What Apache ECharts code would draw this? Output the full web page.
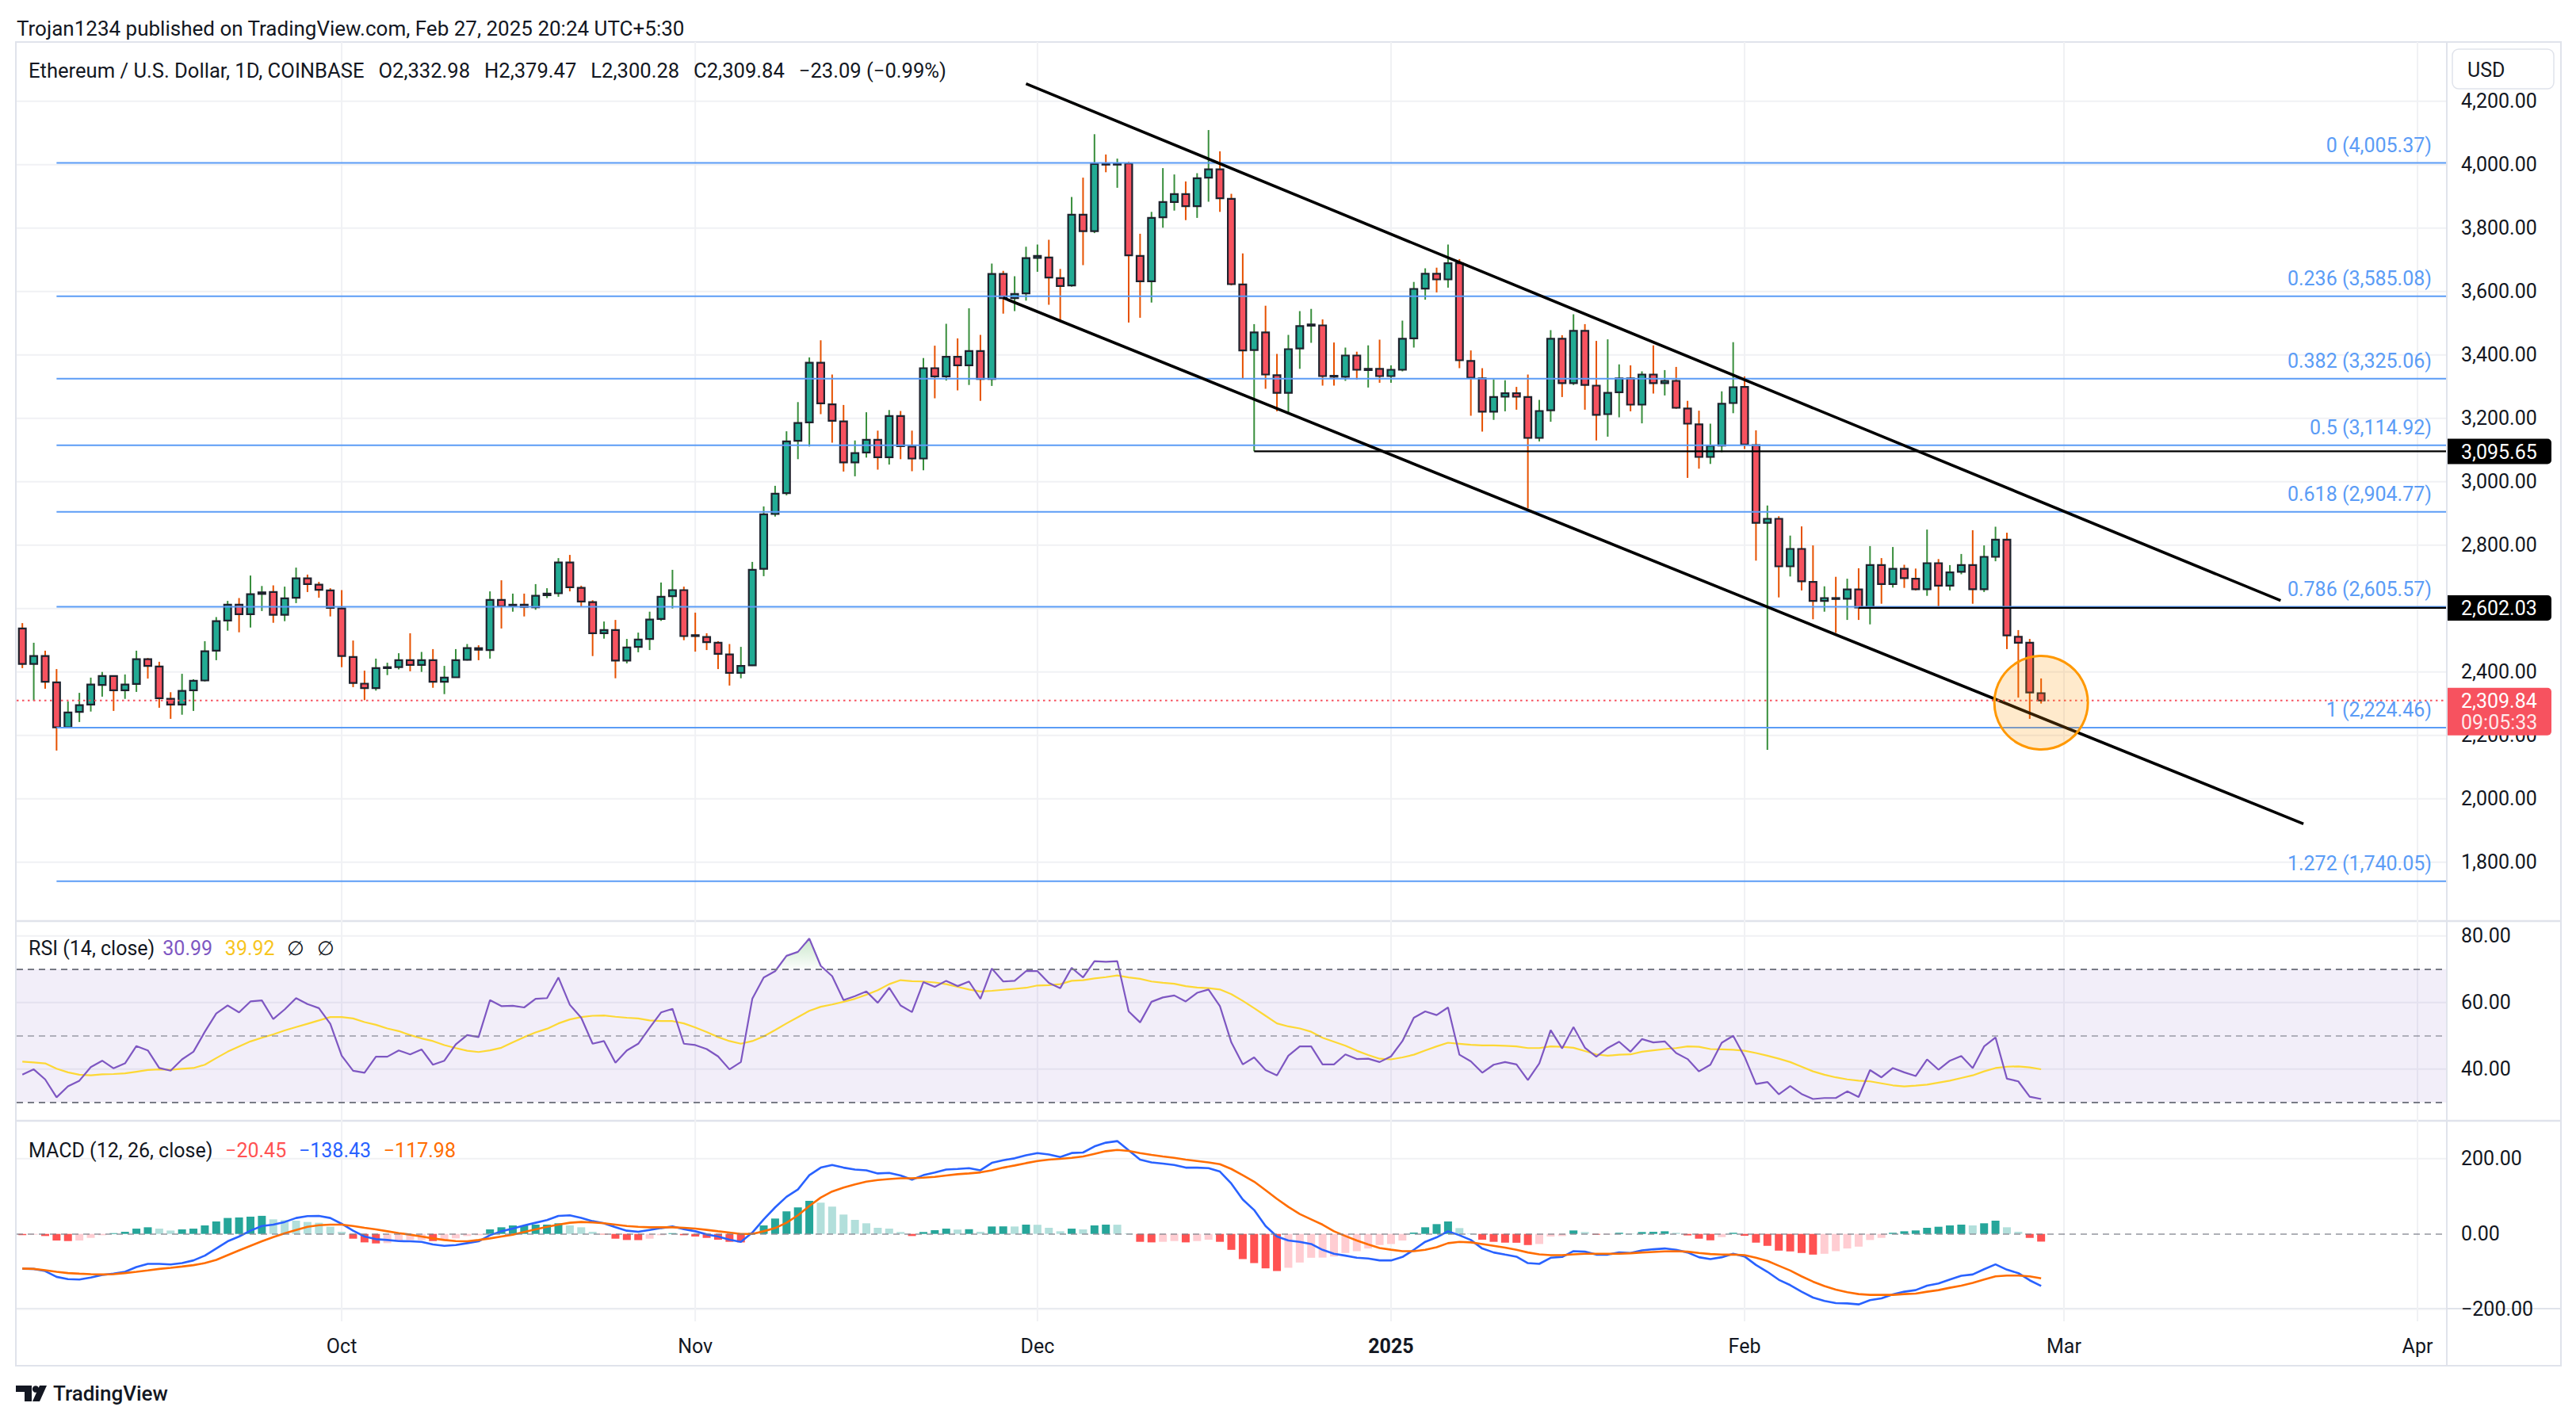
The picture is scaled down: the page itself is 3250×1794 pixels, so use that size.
<!DOCTYPE html>
<html><head><meta charset="utf-8">
<script src="https://cdn.jsdelivr.net/npm/echarts@6/dist/echarts.min.js"></script>
<style>html,body{margin:0;padding:0;background:#fff}#c{width:3250px;height:1794px}</style>
</head><body><div id="c"></div>
<script>
// ---------------- DATA ----------------
const firstDate = '2024-09-03';
const lastAxisDate = '2025-04-03';
const open = [
2537,2425,2450,2367,2225,2274,2297,2359,2387,2342,2362,2440,2417,2315,2297,2342,2373,2467,2562,2612,2582,2646,2652,2580,2634,2695,2675,2657,
2600,2447,2363,2349,2413,2415,2437,2422,2437,2369,2383,2438,2475,2469,2627,2607,2612,2604,2642,2648,2745,2665,2620,2522,2532,2436,2479,2504,2567,2639,2658,
2516,2510,2492,2455,2397,2421,2725,2898,2964,3129,3187,3375,3244,3190,3061,3092,3132,3077,3207,3111,3073,3358,3332,3394,3367,3412,3324,3655,3579,3594,
3706,3707,3642,3619,3842,3790,4004,4000,4004,3712,3632,3834,3882,3907,3869,3959,3985,3892,3622,3415,3471,3336,3280,3420,3492,3493,3334,3331,3398,3352,3356,
3333,3353,3452,3609,3656,3638,3689,3381,3326,3221,3268,3279,3267,3138,3225,3451,3311,3476,3303,3213,3282,3326,3243,3338,3311,3318,3231,3181,3078,3114,3248,
3299,3115,2870,2883,2733,2788,2684,2624,2633,2631,2660,2603,2737,2677,2725,2694,2661,2743,2672,2716,2737,2661,2763,2817,2511,2492,2332.98];
const high = [
2554,2492,2467,2409,2307,2334,2382,2400,2389,2392,2467,2444,2432,2336,2394,2377,2497,2573,2624,2633,2704,2671,2673,2669,2729,2707,2684,2664,
2658,2499,2404,2442,2429,2459,2522,2463,2472,2419,2472,2488,2484,2654,2689,2647,2647,2677,2664,2759,2769,2672,2626,2559,2564,2504,2524,2590,2682,2722,2669,
2587,2522,2497,2488,2479,2747,2922,2987,3159,3251,3392,3446,3338,3242,3130,3219,3161,3226,3223,3161,3390,3429,3498,3452,3547,3463,3688,3665,3648,3741,
3748,3763,3671,3898,3959,4096,4032,4019,4009,3782,3851,3989,3969,3947,3973,4109,4042,3908,3720,3497,3555,3403,3463,3538,3545,3512,3439,3423,3410,3430,3448,
3367,3508,3630,3673,3675,3748,3702,3414,3358,3323,3320,3299,3338,3258,3478,3462,3528,3497,3444,3449,3370,3367,3348,3430,3352,3362,3255,3224,3183,3285,3440,
3332,3162,2925,2891,2830,2859,2799,2670,2700,2694,2727,2797,2759,2794,2738,2726,2849,2756,2737,2772,2847,2799,2858,2839,2532,2504,2379.47];
const low = [
2412,2309,2347,2152,2222,2242,2275,2322,2277,2315,2337,2379,2287,2252,2265,2277,2370,2437,2530,2525,2540,2592,2555,2560,2617,2652,2634,2575,
2415,2352,2311,2341,2390,2408,2402,2400,2350,2330,2382,2436,2437,2442,2537,2590,2575,2596,2633,2637,2654,2605,2450,2505,2380,2427,2462,2469,2561,2600,2500,
2464,2469,2409,2357,2380,2419,2702,2890,2957,3071,3111,3213,3123,3032,3017,3076,3038,3054,3071,3033,3036,3263,3319,3288,3305,3255,3302,3530,3538,3571,
3662,3558,3504,3615,3683,3784,3976,3927,3502,3517,3565,3801,3855,3825,3832,3883,3851,3619,3324,3096,3293,3222,3216,3356,3438,3303,3303,3318,3322,3297,3312,
3312,3348,3423,3574,3597,3612,3358,3208,3158,3195,3222,3227,2916,3127,3189,3267,3305,3227,3130,3142,3203,3222,3184,3278,3272,3230,3012,3041,3056,3093,3216,
3103,2751,2154,2635,2701,2657,2566,2590,2523,2564,2564,2550,2615,2666,2665,2657,2640,2606,2657,2708,2615,2652,2749,2472,2319,2252,2300.28];
const close = [
2425,2450,2369,2225,2272,2295,2360,2387,2342,2360,2440,2419,2317,2297,2340,2372,2465,2560,2612,2582,2645,2651,2580,2632,2695,2677,2659,2602,
2450,2365,2349,2412,2415,2437,2422,2437,2369,2382,2437,2475,2470,2627,2607,2612,2605,2640,2647,2745,2667,2622,2522,2532,2436,2477,2502,2565,2637,2658,2513,
2514,2494,2457,2397,2419,2722,2897,2962,3127,3185,3375,3247,3192,3061,3090,3132,3077,3207,3112,3073,3358,3332,3394,3367,3412,3324,3655,3579,3592,3705,
3712,3644,3617,3842,3790,4002,4000,4003,3714,3632,3832,3882,3907,3869,3957,3985,3894,3623,3414,3471,3338,3280,3418,3491,3496,3333,3331,3398,3353,3356,3333,
3353,3451,3608,3656,3638,3689,3383,3328,3221,3267,3279,3268,3138,3223,3451,3311,3476,3305,3211,3280,3326,3243,3338,3311,3318,3233,3183,3078,3113,3246,3298,
3117,2870,2883,2733,2788,2686,2624,2633,2630,2660,2603,2737,2677,2725,2696,2661,2743,2672,2714,2737,2661,2763,2817,2515,2492,2335,2309.84];

const rsi = [
38.3,39.9,36.9,31.5,34.8,36.5,40.6,42.5,40.2,41.7,46.9,45.6,40.3,39.5,42.9,45.2,51.2,56.7,59.1,57.0,60.3,60.6,55.0,57.9,61.3,59.5,58.3,53.6,
44.0,39.5,38.9,43.7,43.7,45.6,44.4,45.9,41.3,42.5,47.4,50.2,49.6,60.7,58.9,59.0,58.5,61.1,61.3,67.5,59.3,55.4,47.6,48.4,41.9,45.6,47.6,52.4,57.0,58.1,47.6,
47.2,46.0,43.8,39.9,42.1,61.1,67.5,69.4,74.0,75.2,79.2,71.0,67.9,60.7,61.9,63.3,59.9,64.4,59.1,57.1,66.1,64.7,66.5,64.9,66.3,61.1,70.2,66.3,66.5,69.4,
69.4,65.9,64.3,70.4,67.5,72.4,72.2,72.4,57.3,54.0,60.2,61.5,62.1,60.3,62.9,63.9,58.9,48.0,41.4,43.5,39.7,38.1,44.0,46.8,46.8,41.4,41.4,44.4,43.0,43.1,42.1,
43.8,48.4,55.4,57.3,56.2,58.5,44.3,42.3,38.9,41.3,42.1,41.4,36.7,41.7,51.7,46.2,52.6,46.4,43.7,46.3,48.2,45.2,49.0,48.0,48.3,44.8,43.0,39.3,41.3,47.9,50.0,
43.7,35.5,36.1,32.4,34.9,32.5,31.0,31.3,31.3,33.3,31.6,39.7,37.5,40.3,39.0,37.9,42.9,39.8,42.5,43.9,40.3,46.8,49.5,37.1,36.3,31.7,30.99];
const rsiMA = [
42.2,42.0,41.7,40.1,39.0,38.3,38.1,38.4,38.5,38.7,39.2,39.7,39.9,39.8,40.1,40.3,41.3,43.3,45.2,46.8,48.3,49.4,50.4,51.6,52.6,53.6,54.6,55.6,
55.6,55.2,54.1,53.3,52.2,51.4,50.2,49.2,48.4,47.2,46.3,45.5,45.1,45.6,46.4,48.0,49.6,51.0,52.1,53.7,54.9,55.6,56.0,56.1,55.7,55.4,55.2,54.6,54.4,54.4,53.7,
52.5,51.1,49.6,48.4,47.6,48.4,49.8,51.7,53.7,55.6,57.5,58.7,59.4,60.2,61.1,62.3,63.7,65.5,66.7,66.4,66.3,66.0,65.5,64.7,63.9,63.3,63.5,63.8,64.1,64.4,
65.1,65.2,65.5,66.5,66.7,67.2,67.6,68.1,67.5,67.1,66.3,65.9,65.6,64.9,64.5,64.3,63.9,62.5,60.5,58.3,56.0,53.7,52.8,52.2,51.2,49.4,48.2,47.0,45.5,44.2,43.1,
42.9,43.5,44.3,45.6,46.8,47.9,47.6,47.3,47.1,47.1,47.0,46.8,46.3,46.3,46.8,46.7,46.4,45.4,44.4,44.0,44.3,44.4,45.2,45.6,46.0,46.3,46.8,46.7,46.0,45.9,45.8,
45.5,44.8,44.0,43.1,42.1,40.7,39.3,38.3,37.5,36.9,36.5,36.3,35.7,35.1,34.8,35.0,35.3,35.9,36.5,37.3,38.1,39.3,40.3,40.7,40.8,40.5,39.92];

const macdLine = [
-92.5,-93,-98.6,-114,-120,-121,-116,-109,-105.6,-100.7,-88,-79.6,-79.6,-81,-77.5,-70.4,-57.7,-38.7,-19.7,-7,8.5,21,24.6,31.7,42.3,47.2,47.9,42.3,
26.8,8.5,-7,-14,-16.2,-19,-19.7,-21,-28,-31.7,-29.6,-24.6,-19.7,-3.5,7,14,22.5,29.6,36.6,47.9,49.3,42.3,33.8,28.2,17.6,8.5,5.6,10.6,15.5,19.7,12.7,
7,-1.4,-7,-15.5,-21,3.5,38.7,70.4,98.6,118,156,176,183,176,171,169,160.6,162,155,144,156,163,171,172.5,174.6,169,188.7,195.8,200.7,209,
214.8,211,204,214.8,216.2,232.4,242.3,246.5,221.8,197.2,190,186.6,183,176,176,174.6,165.5,133.8,91.5,63.4,21,-7,-17.6,-21,-26.8,-42.3,-52.8,-57.7,-63.4,-65.5,-70.4,
-70.4,-61.3,-42.3,-21,-9.2,7,-3.5,-16.2,-38.7,-49.3,-55,-60.6,-77.5,-79.6,-63.4,-61.3,-45.8,-47.2,-55,-55,-49.3,-50.7,-43.7,-40.8,-38.7,-42.3,-49.3,-62,-66.9,-62,-52.8,
-59.9,-82.4,-100.7,-121.8,-135.9,-153.5,-169,-178.2,-183.8,-184.5,-187.3,-176,-171,-160.6,-153.5,-149.3,-137.3,-131.7,-121.1,-111.3,-107.7,-93.7,-81,-95,-104.2,-123.2,-138.43];
const signalLine = [
-92,-93,-96.5,-100.7,-104,-105.6,-107,-107.7,-107,-104,-100.7,-97,-93,-90,-86.6,-83,-77.5,-69,-56.3,-43.7,-31.7,-19.7,-8.5,1.4,10.6,19,23.2,24.6,
24.6,21,16.2,12,7,2,-2,-7,-12,-16.2,-19,-19.7,-16.2,-12,-7,-2,5,12,19,24.6,29.6,31.7,30.3,28.2,24.6,21,19,17.6,17.6,17.6,16.2,
14,10.6,7,3.5,0,0,7,15.5,29.6,49.3,74,96.5,112.7,123.2,131.7,138.7,143,145.8,147.9,147.9,149.3,151.4,155,158.5,160.6,163.4,169,176,181.7,188,
193.7,197.2,199.3,202,205.6,212.7,219.7,223.2,220.4,214.8,209.9,205.6,202,197.2,193.7,190,185.2,172.5,156,138.7,116.2,93,71.8,52.8,38.7,24.6,7,-5.6,-17.6,-28.2,-37.3,
-42,-45.8,-45.8,-42.3,-35.2,-24.6,-21,-22.5,-26.8,-31.7,-36.6,-42.3,-49.3,-54.2,-56.3,-56.3,-54.2,-52.8,-52.8,-52.8,-52.8,-51.4,-49.3,-47.9,-46.5,-45.8,-47.2,-50.7,-53.5,-55,-55,
-56.3,-63.4,-71.8,-84.5,-97.2,-112.7,-126.8,-138.7,-147.9,-154.9,-159.9,-162,-162,-162,-159.9,-158.5,-153.5,-149.3,-143,-137.3,-130.3,-121.1,-112.7,-110.6,-110.6,-112.7,-117.98];
const macdHist = [
-3,-2,-5.6,-17.6,-19,-17.6,-10.6,-3.5,2,5.6,14,17.6,14,9,12,14,22.5,33,42.3,43.7,45.8,48,38.7,36.6,35.2,31.7,29.6,19,
5.6,-12.7,-22.5,-25.3,-24.6,-19.7,-16.5,-16.2,-19,-15.5,-12,-5.6,-3.5,12,17.6,22.5,22.6,24.6,24.7,28.2,22.5,17.6,5.6,-1.4,-12.7,-16.2,-16.5,-12.7,-3.5,2,-3.5,
-7,-10.6,-15.5,-21,-22.5,3,22.5,40.8,59.9,70.4,88,83,72.5,51.4,37.3,28.2,16.2,14,5,-5.6,5,9.9,14,11.5,12.5,5.6,19.7,20,19.7,24.6,
24.2,16.2,7,14,12,22.5,24.6,24.4,1.4,-21,-22.5,-21,-19,-22.5,-19,-15.5,-21,-42.3,-66.9,-77.5,-91.5,-98.6,-90,-76,-63.4,-63,-60,-50.7,-45.8,-38.7,-29.6,
-26.8,-17.6,3.5,17.6,26,33.1,15.5,1.4,-15.5,-21,-23.2,-23.5,-29.6,-26.8,-7,-5.6,9.2,5,-2,-1.5,3,1,5,5.5,7,3,-4,-12.7,-17,-8.5,3,
-5,-23.2,-31.7,-44.4,-46.5,-50.7,-55,-52.8,-45.8,-38.7,-33.8,-16.2,-10.6,3,7,9.2,16.2,19,22.5,24.6,22.5,28.2,35.2,17.6,5.6,-10.6,-20.45];

const fibRatios = ['0','0.236','0.382','0.5','0.618','0.786','1','1.272'];
const fibPrices = [4005.37, 3585.08, 3325.06, 3114.92, 2904.77, 2605.57, 2224.46, 1740.05];
const fibStartDate = '2024-09-06';
const upperChannel = [['2024-11-30', 4255], ['2025-03-20', 2625]];
const lowerChannel = [['2024-11-28', 3580], ['2025-03-22', 1921]];
const levelLines = [['2024-12-20', 3095.65], ['2025-02-11', 2602.03]];
const lastPrice = 2309.84;
const countdown = '09:05:33';
const circleMark = ['2025-02-27', 2303];
const monthTicks = [['2024-10-01','Oct'],['2024-11-01','Nov'],['2024-12-01','Dec'],['2025-01-01','2025'],['2025-02-01','Feb'],['2025-03-01','Mar'],['2025-04-01','Apr']];
const priceTicks = [1800,2000,2200,2400,2600,2800,3000,3200,3400,3600,3800,4000,4200];
const rsiTicks = [40,60,80];
const macdTicks = [-200,0,200];
const rsiUpper = 70;

// ---------------- CHART ----------------
const dates = [];
for (let t = Date.parse(firstDate + 'T00:00:00Z'); t <= Date.parse(lastAxisDate + 'T00:00:00Z'); t += 86400000) {
  dates.push(new Date(t).toISOString().slice(0, 10));
}
const idx = d => dates.indexOf(d);
const monthMap = new Map(monthTicks);

const FONT = 'Roboto, "Noto Sans", Arial, sans-serif';
const TXT = '#131722';
const UP = '#22ab94', DN = '#f7525f', WUP = '#388e3c', WDN = '#e65100', BORDER = '#1e222d';
const FIB = '#5b9cf6';
const GRIDC = '#f0f1f4';
const SEP = '#e0e3eb';
const L = 21, W = 3065;
const PANE_TOP = 53, AXIS_Y = 1651, BOX_BOTTOM = 1723;

const fmt2 = v => Math.abs(v).toLocaleString('en-US', {minimumFractionDigits: 2, maximumFractionDigits: 2});
const signed = v => (v < 0 ? '\u2212' : '') + fmt2(v);

function hGrid(params, api) {
  const cs = params.coordSys;
  const y = api.coord([0, api.value(1)])[1];
  return {type: 'line', shape: {x1: cs.x, y1: y, x2: cs.x + cs.width, y2: y}, style: {stroke: GRIDC, lineWidth: 2}};
}
function vGrid(params, api) {
  const x = api.coord([api.value(0), 3000])[0];
  return {type: 'line', shape: {x1: x, y1: PANE_TOP, x2: x, y2: AXIS_Y + 16}, style: {stroke: GRIDC, lineWidth: 2}};
}
function candle(params, api) {
  const i = api.value(0), o = api.value(1), c = api.value(2), l = api.value(3), h = api.value(4);
  const pO = api.coord([i, o]), pC = api.coord([i, c]), pL = api.coord([i, l]), pH = api.coord([i, h]);
  const up = c >= o;
  const bw = 8.8;
  const top = Math.min(pO[1], pC[1]);
  const bh = Math.max(Math.abs(pO[1] - pC[1]), 1.2);
  return {type: 'group', children: [
    {type: 'line', shape: {x1: pO[0], y1: pH[1], x2: pO[0], y2: pL[1]}, style: {stroke: up ? WUP : WDN, lineWidth: 2}},
    {type: 'rect', shape: {x: pO[0] - bw / 2, y: top, width: bw, height: bh}, style: {fill: up ? UP : DN, stroke: BORDER, lineWidth: 2.2}}
  ]};
}
function fibRender(params, api) {
  const cs = params.coordSys;
  const k = api.value(2);
  const p = api.coord([api.value(0), api.value(1)]);
  const right = cs.x + cs.width;
  return {type: 'group', children: [
    {type: 'line', shape: {x1: p[0], y1: p[1], x2: right, y2: p[1]}, style: {stroke: FIB, lineWidth: 2}},
    {type: 'text', x: right - 18, y: p[1] - 22, style: {text: fibRatios[k] + ' (' + fmt2(fibPrices[k]) + ')', fill: FIB, font: '25px ' + FONT, align: 'right', verticalAlign: 'middle'}}
  ]};
}
function levelRender(params, api) {
  const cs = params.coordSys;
  const v = api.value(1);
  const p = api.coord([api.value(0), v]);
  const right = cs.x + cs.width;
  return {type: 'group', children: [
    {type: 'line', shape: {x1: p[0], y1: p[1], x2: right, y2: p[1]}, style: {stroke: '#000', lineWidth: 2.2}},
    {type: 'rect', shape: {x: right + 2, y: p[1] - 16, width: 131, height: 32, r: [0, 5, 5, 0]}, style: {fill: '#000'}},
    {type: 'text', x: right + 19, y: p[1] + 1, style: {text: fmt2(v), fill: '#fff', font: '25px ' + FONT, align: 'left', verticalAlign: 'middle'}}
  ]};
}
function lastRender(params, api) {
  const cs = params.coordSys;
  const v = api.value(1);
  const y = api.coord([0, v])[1];
  const right = cs.x + cs.width;
  return {type: 'group', children: [
    {type: 'line', shape: {x1: cs.x, y1: y, x2: right, y2: y}, style: {stroke: DN, lineWidth: 2, lineDash: [2.5, 4.5]}},
    {type: 'rect', shape: {x: right + 2, y: y - 16, width: 131, height: 60, r: [0, 5, 5, 0]}, style: {fill: DN}},
    {type: 'text', x: right + 19, y: y + 1, style: {text: fmt2(v), fill: '#fff', font: '25px ' + FONT, align: 'left', verticalAlign: 'middle'}},
    {type: 'text', x: right + 19, y: y + 28, style: {text: countdown, fill: 'rgba(255,255,255,0.88)', font: '25px ' + FONT, align: 'left', verticalAlign: 'middle'}}
  ]};
}
function circleRender(params, api) {
  const p = api.coord([api.value(0), api.value(1)]);
  return {type: 'circle', shape: {cx: p[0], cy: p[1], r: 59}, style: {fill: 'rgba(255,152,0,0.2)', stroke: '#ff9800', lineWidth: 3}};
}
// overbought fill: part of each RSI segment above the upper band
function obFill(params, api) {
  const i = api.value(0), v0 = api.value(1), v1 = api.value(2);
  if (v0 <= rsiUpper && v1 <= rsiUpper) return null;
  const p0 = api.coord([i, v0]), p1 = api.coord([i + 1, v1]);
  const yb = api.coord([i, rsiUpper])[1];
  const yt = api.coord([i, 80])[1];
  let pts;
  if (v0 > rsiUpper && v1 > rsiUpper) pts = [[p0[0], yb], p0, p1, [p1[0], yb]];
  else {
    const t = (rsiUpper - v0) / (v1 - v0);
    const xi = p0[0] + t * (p1[0] - p0[0]);
    pts = v0 > rsiUpper ? [[p0[0], yb], p0, [xi, yb]] : [[xi, yb], p1, [p1[0], yb]];
  }
  return {type: 'polygon', shape: {points: pts}, style: {
    fill: new echarts.graphic.LinearGradient(0, yt, 0, yb, [
      {offset: 0, color: 'rgba(76,175,80,0.32)'}, {offset: 1, color: 'rgba(76,175,80,0.02)'}], true)}};
}

const xCat = (gi, showLabels) => ({
  type: 'category', gridIndex: gi, data: dates, boundaryGap: true,
  axisLine: {show: false}, axisTick: {show: false}, splitLine: {show: false},
  axisLabel: showLabels ? {
    show: true, margin: 34, fontSize: 25, color: TXT, fontFamily: FONT,
    interval: (i, v) => monthMap.has(v),
    formatter: v => monthMap.get(v) === '2025' ? '{b|2025}' : (monthMap.get(v) || ''),
    rich: {b: {fontWeight: 'bold', fontSize: 25, color: TXT, fontFamily: FONT}}
  } : {show: false}
});
const yVal = (gi, min, max, interval, ticks, fmt) => ({
  type: 'value', gridIndex: gi, position: 'right', min, max, interval, scale: false,
  axisLine: {show: false}, axisTick: {show: false}, splitLine: {show: false},
  axisLabel: {show: true, align: 'left', margin: 19, fontSize: 25, color: TXT, fontFamily: FONT,
    formatter: v => ticks.includes(v) ? fmt(v) : ''}
});

const histColors = macdHist.map((v, i) => {
  const prev = i === 0 ? 0 : macdHist[i - 1];
  if (v >= 0) return v >= prev ? '#26a69a' : '#b2dfdb';
  return v <= prev ? '#ff5252' : '#ffcdd2';
});

const rich25 = c => ({fill: c, fontSize: 25, fontFamily: FONT});
const GAP = '  \u2009';
const GAP2 = '    \u2009';

const option = {
  animation: false,
  backgroundColor: '#ffffff',
  grid: [
    {left: L, width: W, top: 47.7, height: 1120},
    {left: L, width: W, top: 1138.7, height: 294},
    {left: L, width: W, top: 1414.2, height: 237.5}
  ],
  xAxis: [xCat(0, false), xCat(1, false), xCat(2, true)],
  yAxis: [
    yVal(0, 1600, 4400, 200, priceTicks, fmt2),
    yVal(1, 20, 90, 20, rsiTicks, fmt2),
    yVal(2, -200, 300, 100, macdTicks, signed)
  ],
  series: [
    // main pane
    {type: 'custom', name: 'price grid', xAxisIndex: 0, yAxisIndex: 0, silent: true, z: 0,
     renderItem: hGrid, data: priceTicks.map(v => [0, v])},
    {type: 'custom', name: 'month grid', xAxisIndex: 0, yAxisIndex: 0, silent: true, z: 0,
     renderItem: vGrid, data: monthTicks.map(m => [idx(m[0]), 3000])},
    {type: 'custom', name: 'ETHUSD', xAxisIndex: 0, yAxisIndex: 0, z: 5,
     renderItem: candle, encode: {x: 0, y: [1, 2, 3, 4]},
     data: close.map((c, i) => [i, open[i], c, low[i], high[i]])},
    {type: 'custom', name: 'Fib retracement', xAxisIndex: 0, yAxisIndex: 0, silent: true, z: 6,
     renderItem: fibRender, data: fibPrices.map((p, k) => [idx(fibStartDate), p, k])},
    {type: 'line', name: 'upper channel', xAxisIndex: 0, yAxisIndex: 0, z: 7, silent: true, symbol: 'none',
     lineStyle: {color: '#000', width: 3.6}, data: upperChannel.map(d => [idx(d[0]), d[1]])},
    {type: 'line', name: 'lower channel', xAxisIndex: 0, yAxisIndex: 0, z: 7, silent: true, symbol: 'none',
     lineStyle: {color: '#000', width: 3.6}, data: lowerChannel.map(d => [idx(d[0]), d[1]])},
    {type: 'custom', name: 'levels', xAxisIndex: 0, yAxisIndex: 0, silent: true, z: 8,
     renderItem: levelRender, data: levelLines.map(d => [idx(d[0]), d[1]])},
    {type: 'custom', name: 'last price', xAxisIndex: 0, yAxisIndex: 0, silent: true, z: 9,
     renderItem: lastRender, data: [[0, lastPrice]]},
    {type: 'custom', name: 'highlight', xAxisIndex: 0, yAxisIndex: 0, silent: true, z: 10,
     renderItem: circleRender, data: [[idx(circleMark[0]), circleMark[1]]]},
    // RSI pane
    {type: 'custom', name: 'rsi grid', xAxisIndex: 1, yAxisIndex: 1, silent: true, z: 0,
     renderItem: hGrid, data: rsiTicks.map(v => [0, v])},
    {type: 'custom', name: 'rsi overbought', xAxisIndex: 1, yAxisIndex: 1, silent: true, z: 2,
     renderItem: obFill, data: rsi.slice(0, -1).map((v, i) => [i, v, rsi[i + 1]])},
    {type: 'line', name: 'RSI', xAxisIndex: 1, yAxisIndex: 1, z: 4, symbol: 'none', data: rsi,
     lineStyle: {color: '#7e57c2', width: 2.2},
     markArea: {silent: true, itemStyle: {color: 'rgba(126,87,194,0.1)'}, data: [[{yAxis: 30}, {yAxis: 70}]]},
     markLine: {silent: true, symbol: 'none', label: {show: false},
       data: [
         {yAxis: 70, lineStyle: {color: '#787b86', type: [8, 6], width: 2.2}},
         {yAxis: 50, lineStyle: {color: 'rgba(120,123,134,0.55)', type: [8, 6], width: 2.2}},
         {yAxis: 30, lineStyle: {color: '#787b86', type: [8, 6], width: 2.2}}
       ]}},
    {type: 'line', name: 'RSI MA', xAxisIndex: 1, yAxisIndex: 1, z: 3, symbol: 'none', data: rsiMA,
     lineStyle: {color: '#fdd835', width: 2.2}},
    // MACD pane
    {type: 'custom', name: 'macd grid', xAxisIndex: 2, yAxisIndex: 2, silent: true, z: 0,
     renderItem: hGrid, data: [[0, 200], [0, -200]]},
    {type: 'bar', name: 'Histogram', xAxisIndex: 2, yAxisIndex: 2, z: 3, barWidth: 10,
     data: macdHist.map((v, i) => ({value: v, itemStyle: {color: histColors[i]}})),
     markLine: {silent: true, symbol: 'none', label: {show: false},
       data: [{yAxis: 0, lineStyle: {color: 'rgba(120,123,134,0.6)', type: [8, 6], width: 2}}]}},
    {type: 'line', name: 'MACD', xAxisIndex: 2, yAxisIndex: 2, z: 4, symbol: 'none', data: macdLine,
     lineStyle: {color: '#2962ff', width: 2.6}},
    {type: 'line', name: 'Signal', xAxisIndex: 2, yAxisIndex: 2, z: 4, symbol: 'none', data: signalLine,
     lineStyle: {color: '#ff6d00', width: 2.6}}
  ],
  graphic: [
    {type: 'rect', silent: true, z: -1, shape: {x: 20, y: PANE_TOP, width: 3211, height: BOX_BOTTOM - PANE_TOP}, style: {fill: 'none', stroke: SEP, lineWidth: 2}},
    {type: 'line', silent: true, shape: {x1: 20, y1: 1162, x2: 3231, y2: 1162}, style: {stroke: SEP, lineWidth: 2.5}},
    {type: 'line', silent: true, shape: {x1: 20, y1: 1414, x2: 3231, y2: 1414}, style: {stroke: SEP, lineWidth: 2.5}},
    {type: 'line', silent: true, shape: {x1: 20, y1: AXIS_Y, x2: 3231, y2: AXIS_Y}, style: {stroke: SEP, lineWidth: 2}},
    {type: 'line', silent: true, shape: {x1: 3087, y1: PANE_TOP, x2: 3087, y2: BOX_BOTTOM}, style: {stroke: SEP, lineWidth: 2}},
    {type: 'text', x: 21, y: 36, style: {text: 'Trojan1234 published on TradingView.com, Feb 27, 2025 20:24 UTC+5:30', fill: TXT, font: '26px ' + FONT, verticalAlign: 'middle'}},
    {type: 'text', x: 36, y: 89, z: 20, style: {text: 'Ethereum / U.S. Dollar, 1D, COINBASE' + GAP + 'O2,332.98' + GAP + 'H2,379.47' + GAP + 'L2,300.28' + GAP + 'C2,309.84' + GAP + '\u221223.09 (\u22120.99%)', fill: TXT, font: '25.6px ' + FONT, verticalAlign: 'middle'}},
    {type: 'text', x: 36, y: 1196, z: 20, style: {
      text: '{a|RSI (14, close)}   {p|30.99}' + GAP2 + '{y|39.92}' + GAP2 + '{a|\u2205}' + GAP2 + '{a|\u2205}', verticalAlign: 'middle',
      rich: {a: rich25(TXT), p: rich25('#7e57c2'), y: rich25('#f7c51e')}}},
    {type: 'text', x: 36, y: 1451, z: 20, style: {
      text: '{a|MACD (12, 26, close)}' + GAP2 + '{r|\u221220.45}' + GAP2 + '{b|\u2212138.43}' + GAP2 + '{o|\u2212117.98}', verticalAlign: 'middle',
      rich: {a: rich25(TXT), r: rich25('#ff5252'), b: rich25('#2962ff'), o: rich25('#ff6d00')}}},
    {type: 'rect', z: 20, shape: {x: 3094, y: 62, width: 128, height: 50, r: 8}, style: {fill: '#fff', stroke: SEP, lineWidth: 1.5}},
    {type: 'text', z: 21, x: 3113, y: 88, style: {text: 'USD', fill: TXT, font: '25px ' + FONT, verticalAlign: 'middle'}},
    {type: 'polygon', shape: {points: [[20,1748],[40,1748],[40,1768],[31,1768],[31,1756],[20,1756]]}, style: {fill: TXT}},
    {type: 'circle', shape: {cx: 45, cy: 1752.5, r: 4.2}, style: {fill: TXT}},
    {type: 'polygon', shape: {points: [[50,1748],[59,1748],[50,1768],[41,1768]]}, style: {fill: TXT}},
    {type: 'text', x: 67, y: 1758, style: {text: 'TradingView', fill: TXT, font: '500 26px ' + FONT, verticalAlign: 'middle'}}
  ]
};

const chart = echarts.init(document.getElementById('c'), null, {renderer: 'svg', width: 3250, height: 1794});
chart.setOption(option);
</script>
</body></html>
